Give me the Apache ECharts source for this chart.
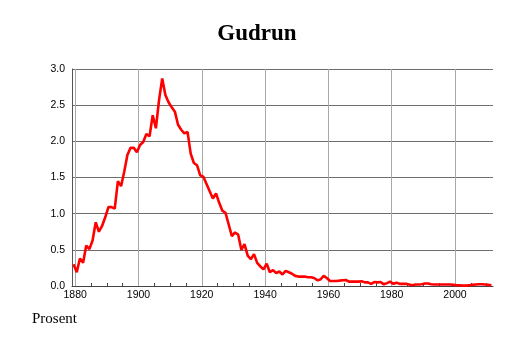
<!DOCTYPE html>
<html>
<head>
<meta charset="utf-8">
<script src="https://cdn.jsdelivr.net/npm/echarts@6/dist/echarts.min.js"></script>
<style>
html,body{margin:0;padding:0;background:#fff;}
#chart{width:514px;height:343px;}
</style>
</head>
<body>
<div id="chart"></div>
<script>
const titleText = 'Gudrun';
const yAxisName = 'Prosent';
const firstYear = 1880;
const values = [
  0.30, 0.19, 0.38, 0.32, 0.56, 0.51, 0.63, 0.88, 0.75, 0.83,
  0.95, 1.09, 1.09, 1.07, 1.45, 1.38, 1.58, 1.81, 1.91, 1.91,
  1.85, 1.95, 1.99, 2.10, 2.07, 2.36, 2.18, 2.57, 2.87, 2.64,
  2.54, 2.47, 2.41, 2.23, 2.16, 2.11, 2.13, 1.83, 1.70, 1.67,
  1.53, 1.51, 1.41, 1.31, 1.21, 1.28, 1.15, 1.04, 1.01, 0.85,
  0.69, 0.74, 0.71, 0.50, 0.58, 0.42, 0.37, 0.44, 0.32, 0.27,
  0.23, 0.31, 0.19, 0.22, 0.18, 0.20, 0.16, 0.21, 0.19, 0.17,
  0.14, 0.13, 0.13, 0.13, 0.12, 0.12, 0.11, 0.08, 0.09, 0.14,
  0.11, 0.07, 0.07, 0.07, 0.074, 0.08, 0.083, 0.06, 0.06, 0.06,
  0.06, 0.065, 0.05, 0.05, 0.03, 0.055, 0.05, 0.055, 0.023, 0.04,
  0.06, 0.03, 0.045, 0.03, 0.03, 0.03, 0.02, 0.01, 0.02, 0.02,
  0.025, 0.035, 0.035, 0.025, 0.02, 0.02, 0.02, 0.02, 0.02, 0.02,
  0.015, 0.01, 0.01, 0.005, 0.005, 0.01, 0.015, 0.02, 0.025, 0.025,
  0.02, 0.015, 0.01
];
const years = values.map((v, i) => firstYear + i);
const xLabelYears = [1880, 1900, 1920, 1940, 1960, 1980, 2000];
const xMinorTicks = [1880,1885,1890,1895,1900,1905,1910,1915,1920,1925,1930,1935,1940,1945,1950,1955,1960,1965,1970,1975,1980,1985,1990,1995,2000,2005,2010];

const seriesData = years.map((y, i) => [y - 0.5, values[i]]);

const chart = echarts.init(document.getElementById('chart'), null, {renderer: 'canvas'});
chart.setOption({
  animation: false,
  backgroundColor: '#ffffff',
  title: [
    {
      text: titleText,
      left: 'center',
      top: 23,
      padding: 0,
      textStyle: {fontFamily: 'Liberation Serif', fontWeight: 'bold', fontSize: 23, color: '#000'}
    },
    {
      text: yAxisName,
      left: 32,
      top: 312,
      padding: 0,
      textStyle: {fontFamily: 'Liberation Serif', fontWeight: 'normal', fontSize: 15, color: '#000'}
    }
  ],
  grid: {left: 72, right: 21, top: 69, bottom: 57, containLabel: false},
  xAxis: {
    type: 'value',
    min: 1879,
    max: 2012,
    axisLine: {show: true, onZero: false, lineStyle: {color: '#444', width: 1}},
    axisTick: {show: true, inside: true, length: 3, customValues: xMinorTicks, lineStyle: {color: '#444'}},
    axisLabel: {
      customValues: xLabelYears,
      margin: 4,
      fontFamily: 'Liberation Sans',
      fontSize: 10.5,
      color: '#000',
      formatter: v => String(v)
    },
    splitLine: {show: false}
  },
  yAxis: {
    type: 'value',
    min: 0,
    max: 3,
    interval: 0.5,
    axisLine: {show: true, lineStyle: {color: '#555', width: 1}},
    axisTick: {show: false},
    axisLabel: {
      margin: 7,
      fontFamily: 'Liberation Sans',
      fontSize: 10.5,
      color: '#000',
      formatter: v => v.toFixed(1)
    },
    splitLine: {show: true, lineStyle: {color: '#6e6e6e', width: 1}}
  },
  series: [
    {
      type: 'line',
      data: [],
      silent: true,
      z: 1,
      markLine: {
        silent: true,
        symbol: ['none', 'none'],
        label: {show: false},
        lineStyle: {color: '#a8a8a8', width: 1, type: 'solid'},
        emphasis: {disabled: true},
        data: xLabelYears.map(v => ({xAxis: v}))
      }
    },
    {
      type: 'line',
      data: seriesData,
      showSymbol: false,
      symbol: 'none',
      z: 5,
      lineStyle: {color: '#ff0000', width: 2.6},
      itemStyle: {color: '#ff0000'}
    }
  ]
});
</script>
</body>
</html>
